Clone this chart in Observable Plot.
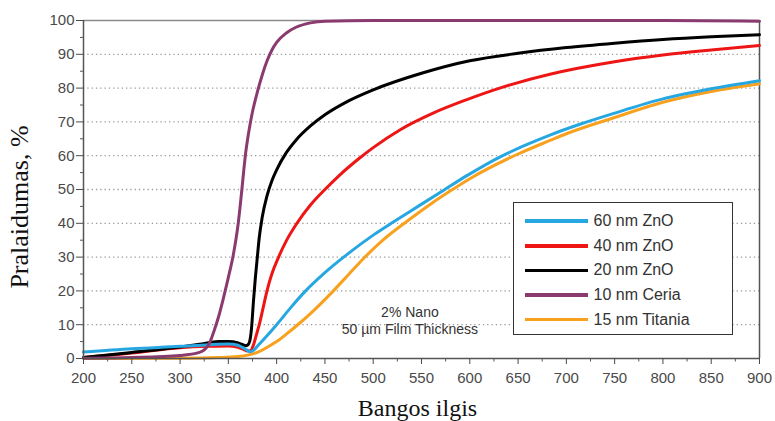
<!DOCTYPE html>
<html>
<head>
<meta charset="utf-8">
<script src="https://cdn.jsdelivr.net/npm/d3@7"></script>
<script src="https://cdn.jsdelivr.net/npm/@observablehq/plot@0.6"></script>
<style>
  body { margin: 0; background: #fff; }
  #wrap { position: relative; width: 775px; height: 421px; overflow: hidden; font-family: "Liberation Sans", Arial, sans-serif; }
  #wrap svg { position: absolute; left: 0; top: 0; }
  .legend { position: absolute; left: 513px; top: 202px; width: 220px; height: 133px; border: 1.5px solid #333; box-sizing: border-box; background: #fff; }
  .lg-line { position: absolute; left: 11px; width: 63px; height: 3.5px; }
  .lg-text { position: absolute; left: 79.5px; font-size: 16px; line-height: 20px; color: #333; white-space: nowrap; }
</style>
</head>
<body>
<div id="wrap"></div>
<script>
// ---- data ----
const seriesNames = ["60 nm ZnO", "40 nm ZnO", "20 nm ZnO", "10 nm Ceria", "15 nm Titania"];
const seriesColors = ["#26a7e2", "#ee1515", "#000000", "#8a3a6e", "#f8a11e"];

const zno60Nm = [200,250,300,330,350,360,365,370,373,376,380,390,400,415,430,450,473,500,522,548,573,597,631,660,683,714,750,800,850,900];
const zno60T  = [1.9,2.9,3.6,4.1,4.3,3.9,3.2,2.4,2.0,2.4,3.6,6.7,10,15.2,20,25.4,30.8,36.5,40.6,45.3,49.8,54.1,59.6,63.4,66.1,69.3,72.6,76.8,79.8,82.2];

const zno40Nm = [200,250,300,330,350,360,365,370,373,376,379,382,386,390,395,402,410,421,435,450,465,485,500,528,562,597,631,683,750,800,850,900];
const zno40T  = [0.3,1.6,3.2,3.6,3.7,3.3,2.8,2.2,2.3,4,7,10,15,20,25,30,34.8,40,45.4,50,54.2,59.1,62.4,67.7,72.6,76.6,80,84.1,87.8,89.8,91.3,92.6];

const zno20Nm = [200,250,300,320,340,350,360,365,368,370,372,374,376,378,380,382,385,390,395,400,410,420,435,450,475,500,550,600,650,700,750,800,850,900];
const zno20T  = [0.3,1.8,3.4,4.2,5.0,5.0,4.6,4.1,3.8,4.0,5,9,17,24,30,35.8,41.7,48.1,52.5,55.8,60.9,64.6,68.8,72.1,76.3,79.5,84.4,88.1,90.3,92,93.3,94.4,95.2,95.8];

const ceriaNm = [200,250,300,320,330,335,340,345,350,355,358,360,362,364,366,368,370,372,375,380,385,390,395,400,410,420,435,450,500,600,700,800,900];
const ceriaT  = [0.1,0.3,0.9,1.8,4.3,8,12.5,18,24,30.5,35.5,39.5,44.5,50,55.8,61,65,68.5,73,78.8,83.8,88,91.2,93.5,96.3,98,99.3,99.8,100,100,100,100,99.8];

const titaniaNm = [200,300,340,360,370,380,390,400,410,424,435,457,475,490,510,535,560,580,600,650,683,700,750,800,850,900];
const titaniaT  = [0,0.1,0.3,0.6,1,1.8,3.3,5.0,7.2,10.5,13.3,19.5,25,29.6,35,40.6,45.8,49.6,53.2,60.5,64.5,66.5,71.3,75.8,79,81.3];

const xTicks = [200,250,300,350,400,450,500,550,600,650,700,750,800,850,900];
const xMinorTicks = [225,275,325,375,425,475,525,575,625,675,725,775,825,875];
const yTicks = [0,10,20,30,40,50,60,70,80,90,100];
const yMinorTicks = [5,15,25,35,45,55,65,75,85,95];
const gridValues = [10,20,30,40,50,60,70,80,90];

const xTitle = "Bangos ilgis";
const yTitle = "Pralaidumas, %";
const noteText = "2% Nano\n50 µm Film Thickness";
const noteX = [538];
const noteY = [11.3];

// ---- build tables ----
function table(nm, t) { return nm.map((x, i) => ({nm: x, t: t[i]})); }
const tables = [
  table(zno60Nm, zno60T),
  table(zno40Nm, zno40T),
  table(zno20Nm, zno20T),
  table(ceriaNm, ceriaT),
  table(titaniaNm, titaniaT)
];
const drawOrder = [4, 1, 2, 0, 3];

const chart = Plot.plot({
  width: 775,
  height: 421,
  marginLeft: 83,
  marginRight: 16,
  marginTop: 20,
  marginBottom: 63,
  style: {fontFamily: "'Liberation Sans', Arial, sans-serif", background: "transparent"},
  x: {domain: [200, 900]},
  y: {domain: [0, 100]},
  marks: [
    Plot.ruleY(gridValues, {stroke: "#999", strokeWidth: 1.3, strokeDasharray: "1.3,3"}),
    Plot.ruleY([100], {stroke: "#8a8a8a", strokeWidth: 1.5}),
    Plot.ruleX([900], {stroke: "#555", strokeWidth: 1.5}),
    ...drawOrder.map(i => Plot.line(tables[i], {x: "nm", y: "t", stroke: seriesColors[i], strokeWidth: 3, curve: "monotone-x"})),
    Plot.ruleX([200], {stroke: "#555", strokeWidth: 1.5}),
    Plot.ruleY([0], {stroke: "#555", strokeWidth: 1.5}),
    Plot.axisY({ticks: yTicks, tickSize: 7, tickPadding: 2, fontSize: 15, color: "#4a4a4a", label: null}),
    Plot.axisY({ticks: yMinorTicks, tickSize: 3, text: null, color: "#555", label: null}),
    Plot.axisX({ticks: xTicks, tickSize: 6, tickPadding: 8, fontSize: 15, color: "#4a4a4a", label: null}),
    Plot.axisX({ticks: xMinorTicks, tickSize: 3.5, text: null, color: "#555", label: null}),
    Plot.text(noteX.map((x, i) => ({x, y: noteY[i], s: noteText})), {x: "x", y: "y", text: "s", fontSize: 14, lineHeight: 1.19, fill: "#333"}),
    Plot.text([xTitle], {text: d => d, frameAnchor: "bottom", textAnchor: "middle", dx: -4, dy: 57.5, lineAnchor: "bottom", fontSize: 24, fontFamily: "'Liberation Serif', 'Times New Roman', serif", fill: "#111"}),
    Plot.text([yTitle], {text: d => d, frameAnchor: "left", textAnchor: "middle", rotate: -90, dx: -64, dy: 17.5, lineAnchor: "middle", fontSize: 26, fontFamily: "'Liberation Serif', 'Times New Roman', serif", fill: "#111"})
  ]
});

const wrap = document.getElementById("wrap");
wrap.appendChild(chart);

// legend (HTML overlay)
const legend = document.createElement("div");
legend.className = "legend";
seriesNames.forEach((name, i) => {
  const cy = 18.2 + i * 24.6;
  const line = document.createElement("div");
  line.className = "lg-line";
  line.style.top = (cy - 1.75) + "px";
  line.style.background = seriesColors[i];
  const txt = document.createElement("div");
  txt.className = "lg-text";
  txt.style.top = (cy - 10) + "px";
  txt.textContent = name;
  legend.appendChild(line);
  legend.appendChild(txt);
});
wrap.appendChild(legend);
</script>
</body>
</html>
